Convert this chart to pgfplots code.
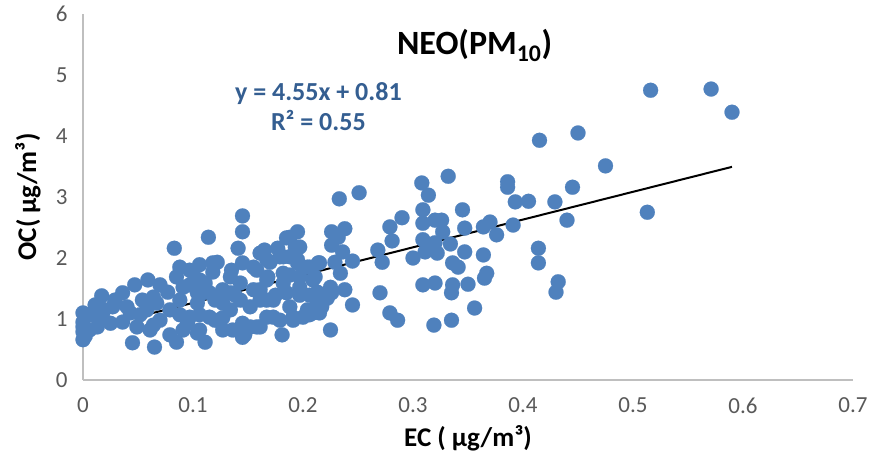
\documentclass[border=0pt]{standalone}
\usepackage{pgfplots}
\pgfplotsset{compat=1.18}
\usepackage{pgfplotstable}
\usepackage{fontspec}
\setmainfont{Carlito}
\definecolor{dotblue}{RGB}{79,129,189}
\definecolor{eqblue}{RGB}{52,94,145}
\definecolor{tickgray}{RGB}{89,89,89}
\definecolor{axgray}{RGB}{191,191,191}
\pgfplotstableread{
x y
0.516 4.75
0.571 4.77
0.590 4.39
0.450 4.05
0.415 3.93
0.475 3.51
0.445 3.16
0.386 3.25
0.386 3.16
0.405 2.93
0.429 2.92
0.393 2.92
0.391 2.54
0.440 2.62
0.513 2.75
0.414 2.16
0.414 1.92
0.432 1.61
0.430 1.44
0.356 1.18
0.335 0.98
0.319 0.90
0.320 1.59
0.336 1.56
0.335 1.43
0.350 1.57
0.367 1.75
0.365 1.67
0.336 1.92
0.341 1.85
0.322 2.08
0.347 2.10
0.364 2.05
0.334 2.23
0.345 2.79
0.347 2.49
0.364 2.51
0.370 2.59
0.376 2.38
0.332 3.34
0.308 3.23
0.314 3.03
0.309 2.79
0.309 2.57
0.320 2.62
0.326 2.62
0.327 2.43
0.309 2.30
0.311 2.10
0.300 2.00
0.320 2.25
0.309 1.56
0.290 2.66
0.279 2.51
0.281 2.28
0.268 2.13
0.272 1.93
0.270 1.43
0.279 1.10
0.286 0.98
0.251 3.07
0.233 2.97
0.226 2.43
0.238 2.48
0.232 2.34
0.226 2.21
0.236 2.10
0.245 1.95
0.229 1.93
0.215 1.92
0.211 1.69
0.206 1.85
0.234 1.75
0.225 1.52
0.238 1.48
0.213 1.44
0.226 1.43
0.217 1.20
0.215 1.10
0.245 1.23
0.206 1.07
0.225 0.82
0.145 2.69
0.145 2.43
0.114 2.34
0.141 2.16
0.165 2.13
0.177 2.16
0.188 2.34
0.195 2.43
0.197 2.18
0.170 1.93
0.182 2.02
0.188 2.02
0.195 1.92
0.200 1.85
0.214 1.92
0.122 1.93
0.097 1.80
0.106 1.64
0.118 1.77
0.134 1.69
0.145 1.92
0.158 1.80
0.143 1.59
0.168 1.69
0.182 1.75
0.197 1.52
0.213 1.26
0.209 1.10
0.200 1.03
0.191 1.03
0.173 1.03
0.161 0.87
0.152 0.87
0.143 0.82
0.136 0.82
0.127 0.82
0.145 0.70
0.111 0.62
0.181 0.74
0.106 0.82
0.115 1.03
0.127 1.26
0.143 1.31
0.152 1.20
0.161 1.31
0.173 1.31
0.134 1.15
0.104 1.26
0.104 1.43
0.115 1.43
0.127 1.48
0.097 1.03
0.083 2.16
0.017 1.38
0.059 1.64
0.047 1.56
0.036 1.43
0.000 1.10
0.006 1.07
0.000 0.79
0.000 0.66
0.045 0.61
0.065 0.54
0.079 0.74
0.085 1.69
0.088 1.85
0.100 1.77
0.091 1.52
0.064 1.36
0.054 1.31
0.040 1.20
0.027 1.20
0.018 1.10
0.043 1.10
0.058 1.15
0.067 1.26
0.088 1.31
0.079 1.15
0.049 0.87
0.064 0.90
0.036 0.95
0.025 0.93
0.013 0.87
0.095 0.93
0.104 0.77
0.091 0.82
0.085 0.62
0.000 0.95
0.000 0.87
0.002 0.72
0.118 1.92
0.161 2.08
0.155 1.85
0.167 1.97
0.179 2.02
0.195 1.97
0.204 1.85
0.155 1.48
0.167 1.64
0.182 1.59
0.197 1.69
0.209 1.64
0.213 1.43
0.185 1.43
0.167 1.31
0.167 1.03
0.188 1.20
0.204 1.15
0.145 0.93
0.158 0.87
0.179 0.98
0.191 0.98
0.215 1.26
0.147 0.74
0.185 2.33
0.193 2.18
0.134 1.43
0.120 1.31
0.106 1.39
0.070 1.56
0.077 1.44
0.097 1.56
0.111 1.59
0.029 1.31
0.011 1.23
0.052 1.07
0.070 0.98
0.106 1.07
0.120 0.98
0.088 1.07
0.161 1.48
0.175 1.39
0.138 1.39
0.061 0.82
0.006 0.82
0.015 0.98
0.127 1.02
0.135 1.80
0.106 1.89
0.015 1.21
0.206 1.39
0.222 1.34
0.197 1.39
0.188 1.72
}\ecoc
\begin{document}
\begin{tikzpicture}
\useasboundingbox (-83pt,-73pt) rectangle (787pt,380pt);
\begin{axis}[
  at={(0,0)}, anchor=south west,
  scale only axis, width=770pt, height=366pt,
  xmin=0, xmax=0.7, ymin=0, ymax=6,
  axis lines=left, axis line style={axgray, line width=1.3pt, -},
  xtick={0,0.1,0.2,0.3,0.4,0.5,0.6,0.7},
  xticklabels={0,0.1,0.2,0.3,0.4,0.5,0.6,0.7},
  ytick={0,1,2,3,4,5,6},
  yticklabels={0,1,2,3,4,5,6},
  major tick length=0pt,
  /pgf/number format/assume math mode=true,
  tick label style={font=\fontsize{23}{26}\selectfont, text=tickgray},
  xticklabel style={yshift=-14pt},
  yticklabel style={xshift=-12pt},
  xlabel={\textbf{EC ( µg/m³)}},
  ylabel={\textbf{OC( µg/m³)}},
  label style={font=\fontsize{27}{30}\selectfont},
  xlabel style={at={(axis description cs:0.5,0)}, anchor=center, yshift=-58pt},
  ylabel style={at={(axis description cs:0,0.5)}, anchor=center, rotate=0, yshift=55pt},
  clip=false,
]
\addplot[only marks, mark=*, mark size=7.5pt, mark options={fill=dotblue, draw=dotblue, line width=0.2pt}] table[x=x,y=y] {\ecoc};
\addplot[black, line width=2pt] coordinates {(0,0.81) (0.59,3.4945)};
\node[font=\fontsize{34}{38}\selectfont\bfseries] at (axis cs:0.356,5.49) {NEO(PM\textsubscript{10})};
\node[font=\fontsize{26}{29}\selectfont\bfseries, text=eqblue, align=center] at (axis cs:0.214,4.49) {y = 4.55x + 0.81\\[1pt]R² = 0.55};
\end{axis}
\end{tikzpicture}
\end{document}
